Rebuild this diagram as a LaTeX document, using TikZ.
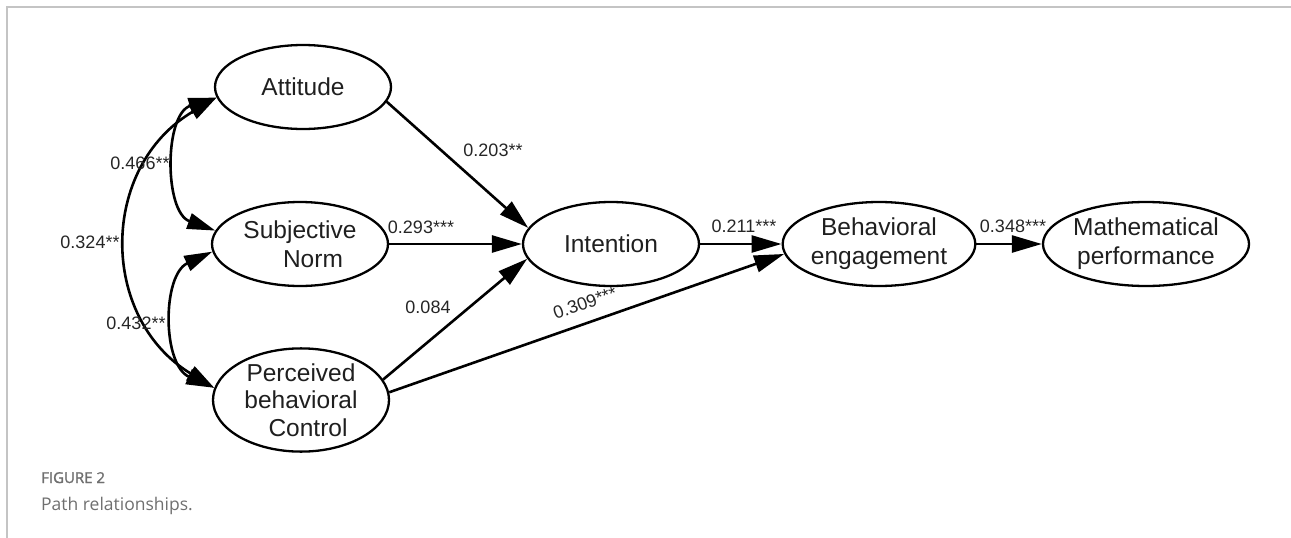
\documentclass[tikz,border=0pt]{standalone}
\usepackage{fontspec}
\setmainfont{Liberation Sans}
\newfontfamily\capfont{Open Sans}
\newfontfamily\capbold[FakeBold=1.5]{Open Sans}
\usetikzlibrary{shapes.geometric,arrows.meta}
\definecolor{capgray}{HTML}{6F6F6F}
\definecolor{framegray}{HTML}{C4C4C4}
\begin{document}
\begin{tikzpicture}[x=1pt,y=-1pt,
  lat/.style={ellipse,draw,line width=2.3pt,minimum width=176pt,minimum height=84pt,inner sep=0pt,align=center,font=\fontsize{24.5}{29}\selectfont,text=black!88},
  pathar/.style={line width=2.6pt,-{Triangle[length=30pt,width=17pt]}},
  cov/.style={line width=2.6pt,{Triangle[length=28pt,width=16pt]}-{Triangle[length=28pt,width=16pt]}},
  lab/.style={font=\fontsize{18}{20}\selectfont,text=black!85,inner sep=0pt}]
\useasboundingbox (0,0) rectangle (1291,538);
\draw[framegray,line width=2pt] (7,538) -- (7,7) -- (1291,7);

\node[lat] (att) at (303,87) {Attitude};
\node[lat] (sn) at (300,244) {Subjective\\\hspace*{26pt}Norm};
\node[lat,font=\fontsize{24.5}{27.5}\selectfont] (pbc) at (301,400) {Perceived\\behavioral\\\hspace*{14pt}Control};
\node[lat] (int) at (611,244) {Intention};
\node[lat] (beh) at (879,244) {Behavioral\\engagement};
\node[lat] (math) at (1146,244) {Mathematical\\performance};

\draw[pathar] (att.-10) -- (int.169);
\draw[pathar] (sn) -- (int);
\draw[pathar] (pbc.14) -- (int.-170);
\draw[pathar] (pbc.5) -- (beh.-174);
\draw[pathar] (int) -- (beh);
\draw[pathar] (beh) -- (math);

\draw[cov] (att.-173) .. controls (164,114) and (164,212) .. (sn.171);
\draw[cov] (sn.-175) .. controls (162,275) and (162,365) .. (pbc.172);
\draw[cov] (att.-173) .. controls (99,167) and (99,318) .. (pbc.172);

\node[lab] (l1) at (493,150) {0.203**};
\node[lab] (l2) at (421,227) {0.293***};
\node[lab] (l3) at (428,307) {0.084};
\node[lab,rotate=19.6] (l4) at (585,303) {0.309***};
\node[lab] (l5) at (744,226) {0.211***};
\node[lab] (l6) at (1013,226) {0.348***};
\node[lab] (l7) at (140,163) {0.466**};
\node[lab] (l8) at (90,242) {0.324**};
\node[lab] (l9) at (136,323) {0.432**};

\node[anchor=base west,inner sep=0pt,font=\capbold\fontsize{15}{17}\selectfont,text=capgray] (fig) at (41,483) {FIGURE 2};
\node[anchor=base west,inner sep=0pt,font=\capfont\fontsize{17.5}{20}\selectfont,text=capgray] (cap) at (41,510) {Path relationships.};
\end{tikzpicture}
\end{document}
